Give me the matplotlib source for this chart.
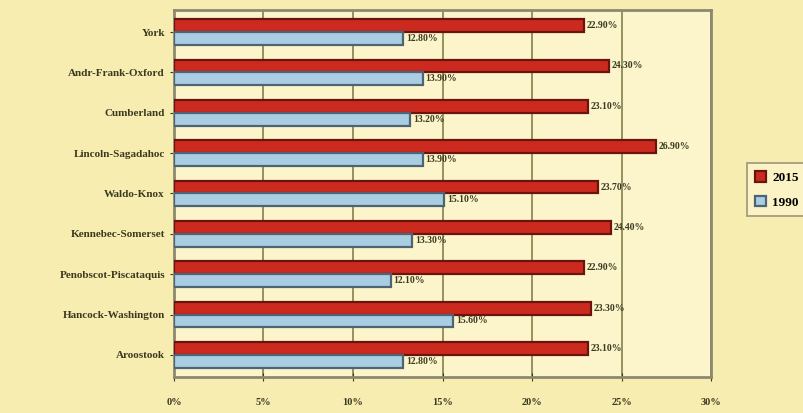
import matplotlib.pyplot as plt
import numpy as np

# Data
regions = ["York", "Andr-Frank-Oxford", "Cumberland", "Lincoln-Sagadahoc",
           "Waldo-Knox", "Kennebec-Somerset", "Penobscot-Piscataquis",
           "Hancock-Washington", "Aroostook"]
pct_2015 = [22.90, 24.30, 23.10, 26.90, 23.70, 24.40, 22.90, 23.30, 23.10]
pct_1990 = [12.80, 13.90, 13.20, 13.90, 15.10, 13.30, 12.10, 15.60, 12.80]
x_ticks = [0, 5, 10, 15, 20, 25, 30]

plt.rcParams["font.family"] = ["Liberation Serif", "DejaVu Serif"]
plt.rcParams["font.weight"] = "bold"

fig = plt.figure(figsize=(8.04, 4.13), dpi=100, facecolor="#f8edb0")
ax = fig.add_axes([0.2164, 0.087, 0.668, 0.889])
ax.set_facecolor("#fcf5cc")

y = np.arange(len(regions))
h = 0.32

bars15 = ax.barh(y - h / 2, pct_2015, height=h, color="#cc2a1e",
                 edgecolor="#6a1410", linewidth=1.6, label="2015", zorder=3)
bars90 = ax.barh(y + h / 2, pct_1990, height=h, color="#a9cde2",
                 edgecolor="#4f6472", linewidth=1.6, label="1990", zorder=3)

# Value labels at the bar ends
for b, v in zip(bars15, pct_2015):
    ax.text(v + 0.15, b.get_y() + b.get_height() / 2, f"{v:.2f}%",
            va="center", ha="left", fontsize=7, color="#3a3a20", zorder=4)
for b, v in zip(bars90, pct_1990):
    ax.text(v + 0.15, b.get_y() + b.get_height() / 2, f"{v:.2f}%",
            va="center", ha="left", fontsize=7, color="#3a3a20", zorder=4)

ax.set_xlim(0, 30)
ax.set_ylim(len(regions) - 0.45, -0.55)
ax.set_xticks(x_ticks)
ax.set_xticklabels([f"{t}%" for t in x_ticks])
ax.set_yticks(y)
ax.set_yticklabels(regions)
ax.tick_params(axis="x", labelsize=7.5, colors="#3a3a20", direction="inout",
               length=6, pad=12)
ax.tick_params(axis="y", labelsize=8, colors="#3a3a20", length=3)

ax.grid(axis="x", color="#8c8a55", linewidth=1.3, zorder=0)
for s in ax.spines.values():
    s.set_color("#8e8870")
    s.set_linewidth(2)

# Legend sits partly outside the right edge, as in the reference
leg = fig.legend(handles=[bars15, bars90], labels=["2015", "1990"],
                 loc="center left", bbox_to_anchor=(0.921, 0.54),
                 fontsize=9.5, frameon=True, fancybox=False,
                 handlelength=0.8, handleheight=0.8, borderpad=0.6,
                 labelspacing=0.9, handletextpad=0.5)
leg.get_frame().set_edgecolor("#8e8870")
leg.get_frame().set_facecolor("#fcf5cc")
leg.get_frame().set_linewidth(1.3)

fig.savefig("out.png", dpi=100, facecolor=fig.get_facecolor())
